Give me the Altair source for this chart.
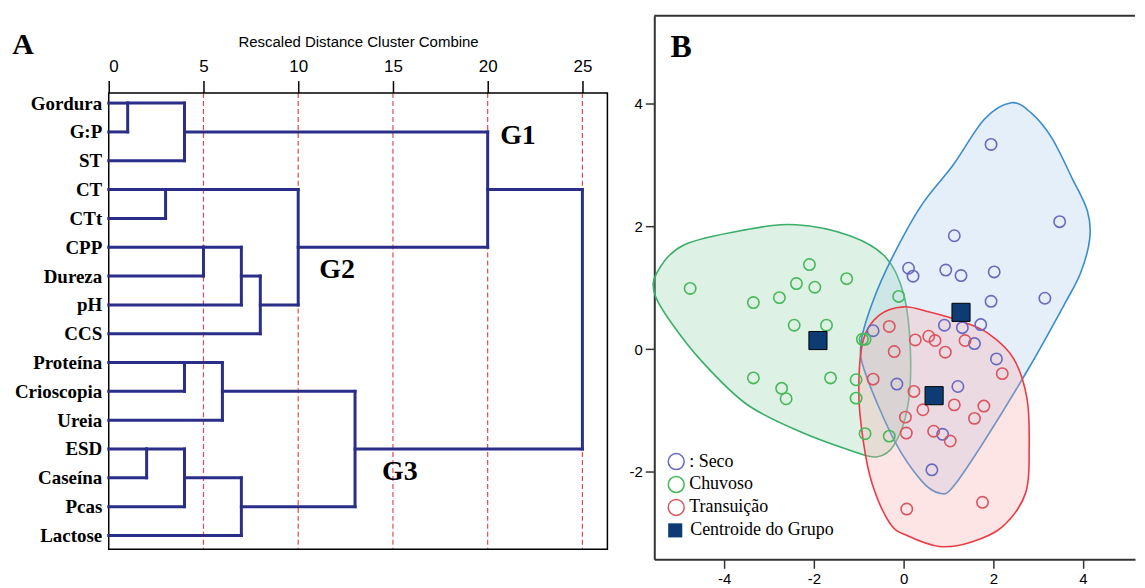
import json
import altair as alt
import pandas as pd

# ---------------- Panel A : dendrogram ----------------
leaves = ["Gordura", "G:P", "ST", "CT", "CTt", "CPP", "Dureza", "pH", "CCS",
          "Proteína", "Crioscopia", "Ureia", "ESD", "Caseína", "Pcas", "Lactose"]
# agglomeration schedule (ids >= 16 are clusters created in this order)
merge_a = [0, 12, 3, 16, 9, 17, 5, 20, 22, 21, 24, 18, 23, 19, 29]
merge_b = [1, 13, 4, 2, 10, 14, 6, 11, 7, 15, 8, 26, 25, 27, 28]
merge_dist = [1, 2, 3, 4, 4, 4, 5, 6, 7, 7, 8, 10, 13, 20, 25]
cut_lines = [5, 10, 15, 20, 25]
x_ticks_a = [0, 5, 10, 15, 20, 25]
group_labels = ["G1", "G2", "G3"]

# ---------------- Panel B : scatter ----------------
groups = ["Seco", "Chuvoso", "Transuição"]
seco_x = [1.95, 3.48, 1.13, 0.11, 0.21, 0.94, 1.28, 2.02, 1.95, 3.15, -0.68, 0.91,
          1.31, 1.72, 1.58, 2.07, -0.15, 1.21, 0.87, 0.63]
seco_y = [3.34, 2.08, 1.85, 1.32, 1.19, 1.29, 1.20, 1.26, 0.78, 0.83, 0.30, 0.39,
          0.35, 0.40, 0.09, -0.16, -0.57, -0.61, -1.39, -1.97]
chuv_x = [-4.76, -3.35, -2.77, -2.39, -2.10, -1.98, -1.27, -2.44, -1.72, -0.92, -0.86,
          -0.11, -3.35, -2.72, -2.62, -1.63, -1.06, -1.06, -0.86, -0.32]
chuv_y = [0.99, 0.76, 0.84, 1.07, 1.38, 1.01, 1.15, 0.39, 0.39, 0.16, 0.16,
          0.86, -0.47, -0.64, -0.81, -0.47, -0.50, -0.80, -1.38, -1.42]
tran_x = [-0.32, 0.26, 0.56, 0.70, 1.37, -0.21, 0.93, 2.20, -0.68, 0.23, 0.43, 1.13,
          1.79, 1.58, 0.04, 0.06, 0.67, 1.04, 0.07, 1.76]
tran_y = [0.37, 0.15, 0.21, 0.14, 0.14, -0.04, -0.05, -0.40, -0.49, -0.69, -0.99, -0.91,
          -0.93, -1.13, -1.11, -1.37, -1.34, -1.50, -2.61, -2.50]
centroid_x = [1.28, -1.91, 0.68]
centroid_y = [0.60, 0.14, -0.76]

hull_seco_x = [2.4, 2.85, 3.3, 3.75, 4.1, 4.15, 3.95, 3.6, 2.8, 1.8, 1.1, 0.8, 0.4, -0.2,
               -0.85, -0.95, -0.7, -0.25, 0.4, 1.1, 1.8]
hull_seco_y = [4.02, 3.85, 3.45, 2.8, 2.25, 1.8, 1.25, 0.75, -0.3, -1.5, -2.25, -2.35, -2.15,
               -1.5, -0.4, 0.1, 0.75, 1.5, 2.35, 3.0, 3.75]
hull_chuv_x = [-5.5, -4.9, -3.5, -2.4, -1.2, -0.4, 0.0, 0.15, 0.1, -0.2, -0.6, -1.2, -2.3,
               -3.5, -4.5, -5.2, -5.55]
hull_chuv_y = [1.25, 1.7, 1.95, 2.03, 1.85, 1.5, 0.9, 0.0, -0.9, -1.55, -1.76, -1.65, -1.35,
               -0.9, -0.2, 0.45, 0.9]
hull_tran_x = [0.0, 0.6, 1.3, 1.9, 2.45, 2.75, 2.8, 2.72, 2.2, 1.5, 0.8, 0.1, -0.3, -0.7,
               -0.9, -1.0, -0.9, -0.55]
hull_tran_y = [0.69, 0.6, 0.45, 0.25, -0.15, -0.8, -1.6, -2.35, -2.9, -3.15, -3.22, -3.05,
               -2.85, -2.2, -1.5, -0.7, 0.15, 0.55]

SERIF = "Liberation Serif"
SANS = "Liberation Sans"
NARROW = "Liberation Sans Narrow, Liberation Sans"
NAVY = "#0c3c73"
LINE = "#2b2e88"
pt_colors = ["#6868c0", "#47b85a", "#d95560"]
hull_stroke = {"Seco": "#3b8ccc", "Chuvoso": "#3aae6a", "Transuição": "#ec3b45"}
hull_fill = {"Seco": "#a9c9ea", "Chuvoso": "#8fd4a4", "Transuição": "#f7a8ab"}

# ---- dendrogram segments from the schedule
n = len(leaves)
ypos = list(range(n))
hgt = [0] * n
rows = []
for a, b, d in zip(merge_a, merge_b, merge_dist):
    ya, yb = ypos[a], ypos[b]
    rows.append(dict(x=hgt[a], x2=d, y=ya, y2=ya))
    rows.append(dict(x=hgt[b], x2=d, y=yb, y2=yb))
    rows.append(dict(x=d, x2=d, y=ya, y2=yb))
    ypos.append((ya + yb) // 2)
    hgt.append(d)
seg_df = pd.DataFrame(rows)

# plot area of A spans the full height; the framed box sits inside it
WA, HA = 500, 535
X_MAX = 26.32
BOX_TOP, BOX_BOT = -0.35, 15.48
xA = alt.Scale(domain=[0, X_MAX], nice=False, zero=False)
yA = alt.Scale(domain=[-3.03, BOX_BOT], reverse=True, nice=False, zero=False)
axA_x = alt.Axis(orient="top", offset=-77, values=x_ticks_a,
                 title="Rescaled Distance Cluster Combine",
                 titleFont=SANS, titleFontSize=15, titleFontWeight="normal", titleColor="black",
                 titlePadding=8, labelFont=NARROW, labelFontSize=17, labelColor="black",
                 tickSize=12, tickColor="black", tickWidth=1.5, domain=False, grid=False,
                 labelPadding=5)
axA_y = alt.Axis(values=list(range(n)), labelExpr=json.dumps(leaves) + "[datum.value]",
                 labelFont=SERIF, labelFontWeight="bold", labelFontSize=19, labelColor="black",
                 ticks=False, domain=False, grid=False, labelPadding=7, title=None,
                 labelOverlap=False)

box = alt.Chart(pd.DataFrame({"x": [0], "x2": [X_MAX], "y": [BOX_TOP], "y2": [BOX_BOT]})).mark_rect(
    fillOpacity=0, stroke="black", strokeWidth=1.5
).encode(x=alt.X("x:Q", scale=xA, axis=axA_x), x2="x2:Q",
         y=alt.Y("y:Q", scale=yA, axis=axA_y), y2="y2:Q")

dashed = alt.Chart(pd.DataFrame({"x": cut_lines, "y": [BOX_TOP] * len(cut_lines),
                                 "y2": [BOX_BOT] * len(cut_lines)})).mark_rule(
    color="#e84a4a", strokeDash=[5, 3], strokeWidth=1.2
).encode(x=alt.X("x:Q", scale=xA, axis=axA_x),
         y=alt.Y("y:Q", scale=yA, axis=axA_y), y2="y2:Q")

segs = alt.Chart(seg_df).mark_rule(color=LINE, strokeWidth=3, strokeCap="square").encode(
    x=alt.X("x:Q", scale=xA, axis=axA_x), x2="x2:Q",
    y=alt.Y("y:Q", scale=yA, axis=axA_y), y2="y2:Q")

glab = alt.Chart(pd.DataFrame({"x": [21.6, 12.05, 15.37], "y": [1.15, 5.8, 12.8],
                               "t": group_labels})).mark_text(
    font=SERIF, fontWeight="bold", fontSize=28, color="black"
).encode(x=alt.X("x:Q", scale=xA, axis=axA_x), y=alt.Y("y:Q", scale=yA, axis=axA_y),
         text="t:N")

a_lab = alt.Chart(pd.DataFrame({"t": ["A"]})).mark_text(
    font=SERIF, fontWeight="bold", fontSize=30, color="black"
).encode(x=alt.value(-86), y=alt.value(29), text="t:N")

panelA = alt.layer(dashed, box, segs, glab, a_lab).properties(
    width=WA, height=HA, view=alt.ViewBackground(stroke="transparent"))

# ---- scatter
pts = pd.DataFrame({
    "x": seco_x + chuv_x + tran_x,
    "y": seco_y + chuv_y + tran_y,
    "g": ["Seco"] * len(seco_x) + ["Chuvoso"] * len(chuv_x) + ["Transuição"] * len(tran_x),
})
cen = pd.DataFrame({"x": centroid_x, "y": centroid_y, "label": ["Centroide do Grupo"] * 3})
hulls = {
    "Chuvoso": (hull_chuv_x, hull_chuv_y),
    "Seco": (hull_seco_x, hull_seco_y),
    "Transuição": (hull_tran_x, hull_tran_y),
}

WB, HB = 482, 545
xB = alt.Scale(domain=[-5.56, 5.16], nice=False, zero=False)
yB = alt.Scale(domain=[-3.43, 5.44], nice=False, zero=False)
common_ax = dict(title=None, labelFont=SANS, labelFontSize=15, labelColor="black",
                 tickSize=9, tickColor="#333", tickWidth=1.5, domainColor="#333",
                 domainWidth=2, grid=False, labelExpr="'' + datum.value", labelPadding=3)
axB_x = alt.Axis(values=[-4, -2, 0, 2, 4], **common_ax)
axB_y = alt.Axis(values=[-2, 0, 2, 4], **common_ax)

layersB = []
for g, (hx, hy) in hulls.items():
    hdf = pd.DataFrame({"x": hx, "y": hy, "i": list(range(len(hx)))})
    layersB.append(alt.Chart(hdf).mark_line(
        interpolate="cardinal-closed", stroke=hull_stroke[g], strokeWidth=1.6,
        fill=hull_fill[g], fillOpacity=0.3
    ).encode(x=alt.X("x:Q", scale=xB, axis=axB_x), y=alt.Y("y:Q", scale=yB, axis=axB_y),
             order="i:Q"))

leg_pts = alt.Legend(orient="none", legendX=13, legendY=438, title=None, symbolType="circle",
                     symbolSize=256, symbolStrokeWidth=1.5, symbolFillColor="transparent",
                     labelFont=SERIF, labelFontSize=18, labelColor="black", padding=0,
                     rowPadding=1, labelOffset=4,
                     labelExpr="datum.label == 'Seco' ? ': Seco' : datum.label")
points = alt.Chart(pts).mark_point(shape="circle", filled=False, size=130, strokeWidth=1.6,
                                    opacity=1).encode(
    x=alt.X("x:Q", scale=xB, axis=axB_x), y=alt.Y("y:Q", scale=yB, axis=axB_y),
    color=alt.Color("g:N", scale=alt.Scale(domain=groups, range=pt_colors), legend=leg_pts))

leg_cen = alt.Legend(orient="none", legendX=12, legendY=507, title=None, symbolType="square",
                     symbolSize=200, symbolFillColor=NAVY, symbolStrokeColor="black",
                     symbolStrokeWidth=1, labelFont=SERIF, labelFontSize=18, labelColor="black",
                     padding=0, labelOffset=6)
cents = alt.Chart(cen).mark_point(filled=True, size=330, color=NAVY, stroke="black",
                                  strokeWidth=1, opacity=1).encode(
    x=alt.X("x:Q", scale=xB, axis=axB_x), y=alt.Y("y:Q", scale=yB, axis=axB_y),
    shape=alt.Shape("label:N", scale=alt.Scale(range=["square"]), legend=leg_cen))

b_lab = alt.Chart(pd.DataFrame({"t": ["B"]})).mark_text(
    font=SERIF, fontWeight="bold", fontSize=32, color="black"
).encode(x=alt.value(27), y=alt.value(31), text="t:N")

top_rule = alt.Chart(pd.DataFrame({"t": [0]})).mark_rule(color="#333", strokeWidth=2).encode(
    x=alt.value(0), x2=alt.value(WB), y=alt.value(0))

panelB = alt.layer(*layersB, points, cents, b_lab, top_rule).properties(
    width=WB, height=HB, view=alt.ViewBackground(stroke="transparent"))

chart = alt.hconcat(panelA, panelB, spacing=19).resolve_scale(
    x="independent", y="independent", color="independent", shape="independent"
).resolve_legend(color="independent", shape="independent").properties(
    padding={"left": 3, "top": 5, "right": 0, "bottom": 0}
).configure(background="white")

chart.save("out.html", embed_options={"renderer": "svg", "actions": False})
